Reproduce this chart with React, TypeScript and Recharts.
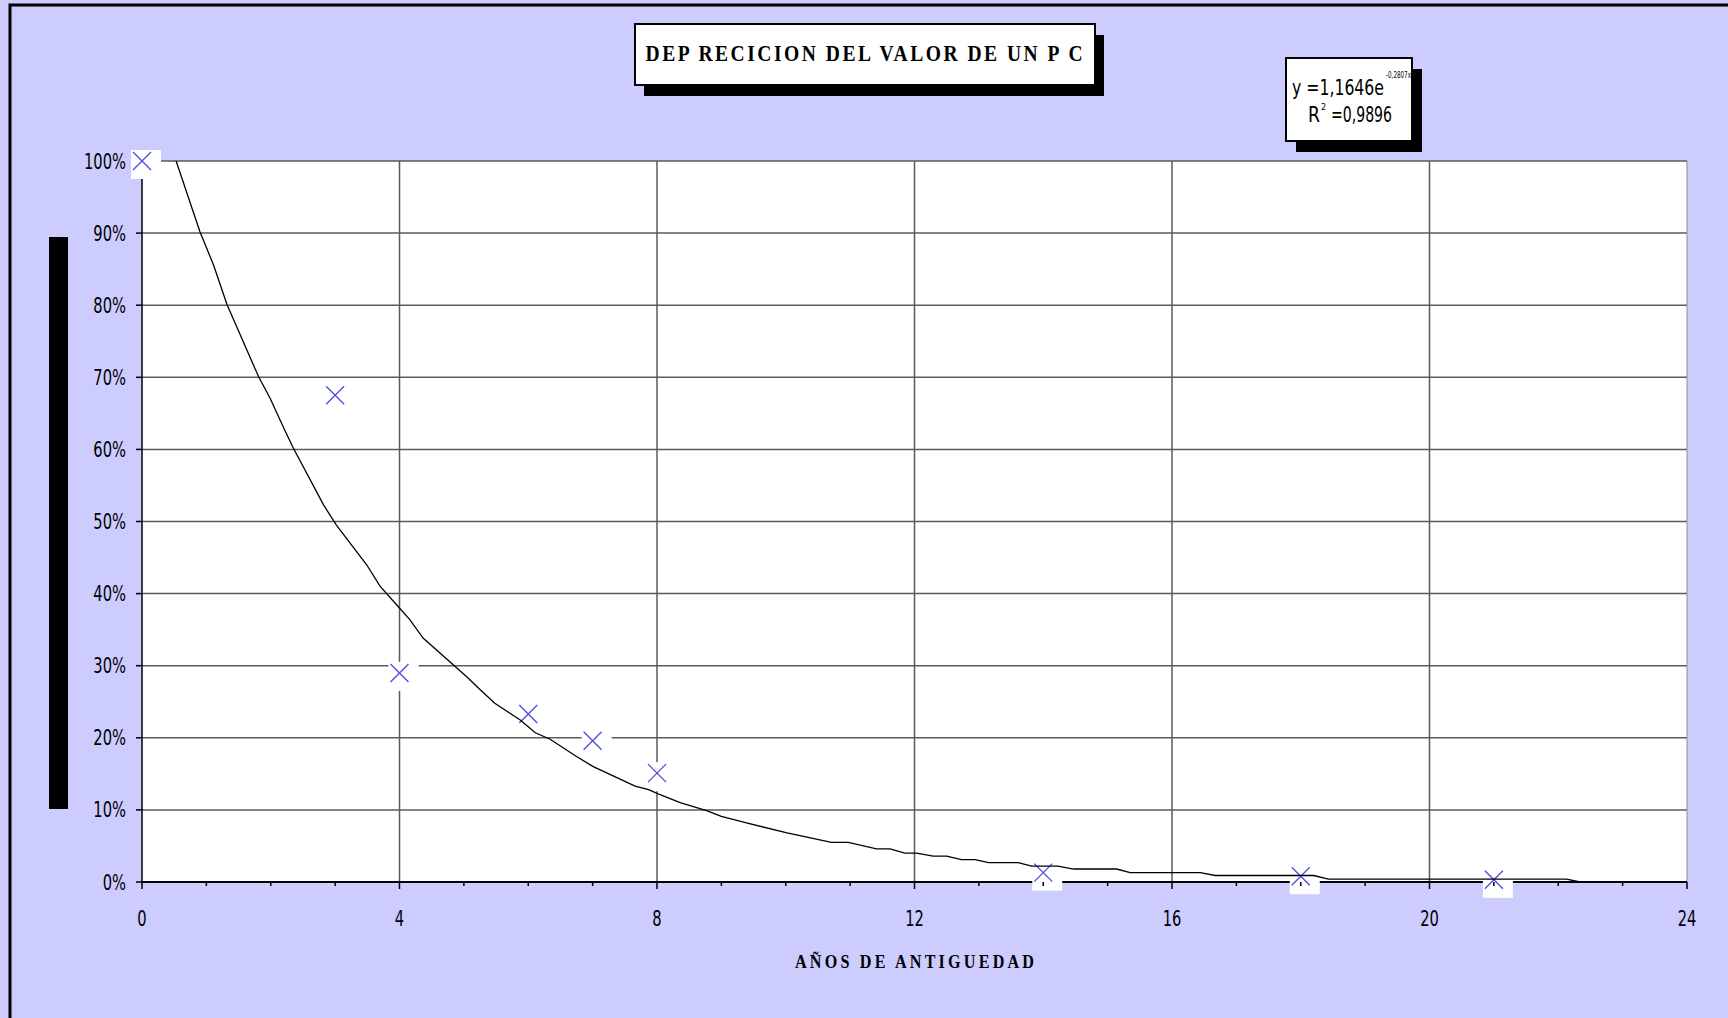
import React from 'react';
import { ComposedChart, Scatter, Line, XAxis, YAxis, CartesianGrid, ReferenceLine } from 'recharts';

// puntos medidos (años, % del valor original)
const years = [0, 3, 4, 6, 7, 8, 14, 18, 21];
const valuePct = [100, 67.5, 29, 23.3, 19.6, 15.1, 1.3, 0.8, 0.3];

// línea de tendencia exponencial
const trendYears = [0.53, 0.9, 1.11, 1.32, 1.81, 1.99, 2.2, 2.35, 2.82, 3.02, 3.49, 3.7, 3.93, 4.16, 4.37, 5.04, 5.25, 5.48, 5.87, 6.11, 6.34, 6.75, 7.01, 7.66, 7.87, 8.0, 8.36, 8.77, 9.0, 9.39, 10.02, 10.71, 10.97, 11.41, 11.62, 11.85, 12.03, 12.29, 12.5, 12.73, 12.94, 13.15, 13.61, 13.82, 14.23, 14.47, 15.14, 15.35, 16.44, 16.67, 18.2, 18.43, 22.13, 22.34, 24];
const trendPct = [100, 90.2, 85.6, 80.1, 70.1, 67.1, 63.0, 60.2, 52.3, 49.5, 44.0, 41.0, 38.7, 36.4, 33.8, 28.5, 26.7, 24.8, 22.5, 20.7, 19.8, 17.4, 16.0, 13.3, 12.8, 12.3, 11.0, 9.9, 9.1, 8.2, 6.8, 5.5, 5.5, 4.6, 4.6, 4.0, 4.0, 3.6, 3.6, 3.1, 3.1, 2.7, 2.7, 2.2, 2.2, 1.8, 1.8, 1.3, 1.3, 0.9, 0.9, 0.4, 0.4, 0, 0];

const xTicks = [0, 1, 2, 3, 4, 5, 6, 7, 8, 9, 10, 11, 12, 13, 14, 15, 16, 17, 18, 19, 20, 21, 22, 23, 24];
const xMajor = [0, 4, 8, 12, 16, 20, 24];
const yTicks = [0, 10, 20, 30, 40, 50, 60, 70, 80, 90, 100];

const title = 'DEP RECICION DEL VALOR DE UN P C';
const xTitle = 'AÑOS DE ANTIGUEDAD';
const eqMain = 'y =1,1646e';
const eqExp = '-0,2807x';
const r2Value = '=0,9896';

const points = years.map((x, i) => ({ x, y: valuePct[i] }));
const trend = trendYears.map((x, i) => ({ x, y: trendPct[i] }));

const sans = "'DejaVu Sans', sans-serif";
const serif = "'Liberation Serif', 'DejaVu Serif', serif";
const squeeze = 0.7;
const markBlue = '#4f4fe0';
const gridGray = '#5a5a5a';

// texto estrecho: el original usa una fuente condensada
function Narrow({ x, y, size, anchor = 'start', children }: any) {
  return (
    <g transform={`translate(${x},${y}) scale(${squeeze},1)`}>
      <text x={0} y={0} textAnchor={anchor} fontFamily={sans} fontSize={size} fill="#000">{children}</text>
    </g>
  );
}

// títulos en negrita serif, algo estrechos y espaciados
function SpacedTitle({ x, y, size, width, children }: any) {
  const sx = 0.85;
  return (
    <g transform={`translate(${x},${y}) scale(${sx},1)`}>
      <text x={0} y={0} textAnchor="middle" fontFamily={serif} fontWeight="bold" fontSize={size}
        textLength={width / sx} lengthAdjust="spacing" fill="#000">{children}</text>
    </g>
  );
}

function XTick(props: any) {
  const { x, y, payload } = props;
  const major = xMajor.includes(payload.value);
  return (
    <g>
      <line x1={x} x2={x} y1={y} y2={y + (major ? 7 : 4)} stroke="#000" strokeWidth={1.5} />
      {major && <Narrow x={x} y={y + 44} size={21} anchor="middle">{payload.value}</Narrow>}
    </g>
  );
}

function YTick(props: any) {
  const { x, y, payload } = props;
  return <Narrow x={x} y={y + 7.5} size={21} anchor="end">{`${payload.value}%`}</Narrow>;
}

function Cross(props: any) {
  const { cx, cy } = props;
  return (
    <g>
      <rect x={cx - 11} y={cy - 11} width={30} height={29} fill="#fff" />
      <path d={`M${cx - 9},${cy - 9}L${cx + 9},${cy + 9}M${cx + 9},${cy - 9}L${cx - 9},${cy + 9}`} stroke={markBlue} strokeWidth={1.4} />
    </g>
  );
}

function XTitle(props: any) {
  const vb = props.viewBox;
  return <SpacedTitle x={vb.x + vb.width / 2} y={vb.y + 86} size={19} width={239}>{xTitle}</SpacedTitle>;
}

export default function App() {
  return (
    <div style={page}>
      <ComposedChart width={1728} height={1018} margin={{ top: 161, right: 41, bottom: 36, left: 62 }}>
        <CartesianGrid vertical={false} stroke={gridGray} strokeWidth={1.5} fill="#ffffff" fillOpacity={1} />
        {[4, 8, 12, 16, 20].map(v => (
          <ReferenceLine key={v} x={v} stroke={gridGray} strokeWidth={1.5} />
        ))}
        <ReferenceLine x={24} stroke="#8a8a8a" strokeWidth={1} />
        <XAxis type="number" dataKey="x" domain={[0, 24]} ticks={xTicks} interval={0} height={100}
          tick={<XTick />} tickLine={false} tickSize={0} tickMargin={0}
          axisLine={{ stroke: '#000', strokeWidth: 2 }}
          label={<XTitle />} />
        <YAxis type="number" dataKey="y" domain={[0, 100]} ticks={yTicks} interval={0} width={80}
          tickSize={6} tickMargin={10} tick={<YTick />}
          tickLine={{ stroke: '#000', strokeWidth: 1.5 }} axisLine={{ stroke: '#000', strokeWidth: 1.5 }} />
        <Scatter data={points} dataKey="y" shape={<Cross />} isAnimationActive={false} zIndex={600} />
        <Line data={trend} dataKey="y" type="linear" stroke="#000" strokeWidth={1.3} dot={false}
          activeDot={false} isAnimationActive={false} zIndex={700} />
      </ComposedChart>

      <svg width={1728} height={1018} style={{ position: 'absolute', left: 0, top: 0, pointerEvents: 'none' }}>
        <rect x={10} y={5} width={1740} height={1040} fill="none" stroke="#000" strokeWidth={3} />
        <rect x={49} y={237} width={19} height={572} fill="#000" />

        <rect x={644} y={35} width={460} height={61} fill="#000" />
        <rect x={635} y={24} width={460} height={61} fill="#fff" stroke="#000" strokeWidth={2} />
        <SpacedTitle x={864} y={61} size={23} width={437}>{title}</SpacedTitle>

        <rect x={1296} y={69} width={126} height={83} fill="#000" />
        <rect x={1286} y={58} width={126} height={83} fill="#fff" stroke="#000" strokeWidth={2} />
        <text x={1292} y={95} fontFamily={sans} fontSize={21} textLength={92} lengthAdjust="spacingAndGlyphs" fill="#000">{eqMain}</text>
        <text x={1386} y={78} fontFamily={sans} fontSize={8} textLength={25} lengthAdjust="spacingAndGlyphs" fill="#000">{eqExp}</text>
        <text x={1308} y={122} fontFamily={sans} fontSize={21} textLength={12} lengthAdjust="spacingAndGlyphs" fill="#000">R</text>
        <text x={1321} y={110} fontFamily={sans} fontSize={8} fill="#000">2</text>
        <text x={1331} y={122} fontFamily={sans} fontSize={21} textLength={61} lengthAdjust="spacingAndGlyphs" fill="#000">{r2Value}</text>
      </svg>
    </div>
  );
}

const page: React.CSSProperties = {
  position: 'absolute', left: 0, top: 0, width: 1728, height: 1018,
  overflow: 'hidden', background: '#CCCCFF',
};
